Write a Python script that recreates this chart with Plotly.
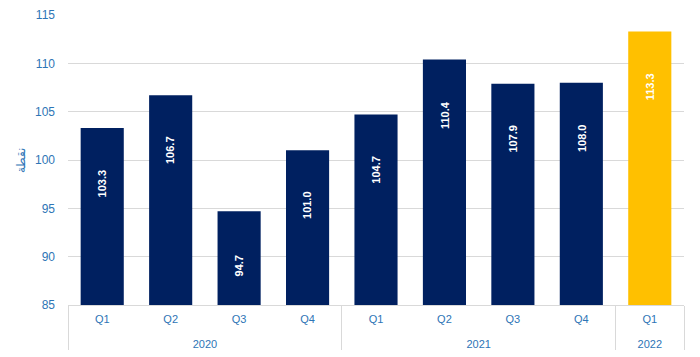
import plotly.graph_objects as go

years = ["2020", "2020", "2020", "2020", "2021", "2021", "2021", "2021", "2022"]
quarters = ["Q1", "Q2", "Q3", "Q4", "Q1", "Q2", "Q3", "Q4", "Q1"]
values = [103.3, 106.7, 94.7, 101.0, 104.7, 110.4, 107.9, 108.0, 113.3]
y_title = "نقطة"

navy = "#002060"
gold = "#FFC000"
blue_txt = "#2E75B6"
colors = [navy] * 8 + [gold]

# leading line break pushes the year row further below the quarter row
year_labels = ["<br>" + y for y in years]

fig = go.Figure()
fig.add_trace(go.Bar(
    x=[year_labels, quarters],
    y=values,
    marker=dict(color=colors, line=dict(width=0)),
    hoverinfo="skip",
))

label_offset = 5.7
for i, v in enumerate(values):
    fig.add_annotation(
        x=i, y=v - label_offset, xref="x", yref="y",
        text=f"<b>{v:.1f}</b>", showarrow=False, textangle=-90,
        font=dict(color="white", size=11, family="Liberation Sans"),
    )

# page body has an 8px margin; compensate so the plot area sits where the reference has it
fig.update_layout(
    width=692, height=349,
    margin=dict(l=60, r=16, t=7, b=52, autoexpand=False),
    paper_bgcolor="white", plot_bgcolor="white",
    bargap=0.37,
    showlegend=False,
    font=dict(family="Liberation Sans", color=blue_txt),
    yaxis=dict(
        range=[85, 115], dtick=5, tick0=85,
        showgrid=True, gridcolor="#D9D9D9", gridwidth=1,
        zeroline=False, showline=False,
        ticks="", ticklabelstandoff=12, automargin=False,
        tickfont=dict(size=12, color=blue_txt),
        title=dict(text=y_title, font=dict(size=12, color=blue_txt), standoff=6),
    ),
    xaxis=dict(
        type="multicategory", automargin=False,
        showline=True, linecolor="#D9D9D9", linewidth=1,
        showdividers=True, dividercolor="#D9D9D9", dividerwidth=1,
        tickfont=dict(size=11, color=blue_txt),
        ticks="", ticklabelstandoff=4,
    ),
)

fig.write_html("out.html")
